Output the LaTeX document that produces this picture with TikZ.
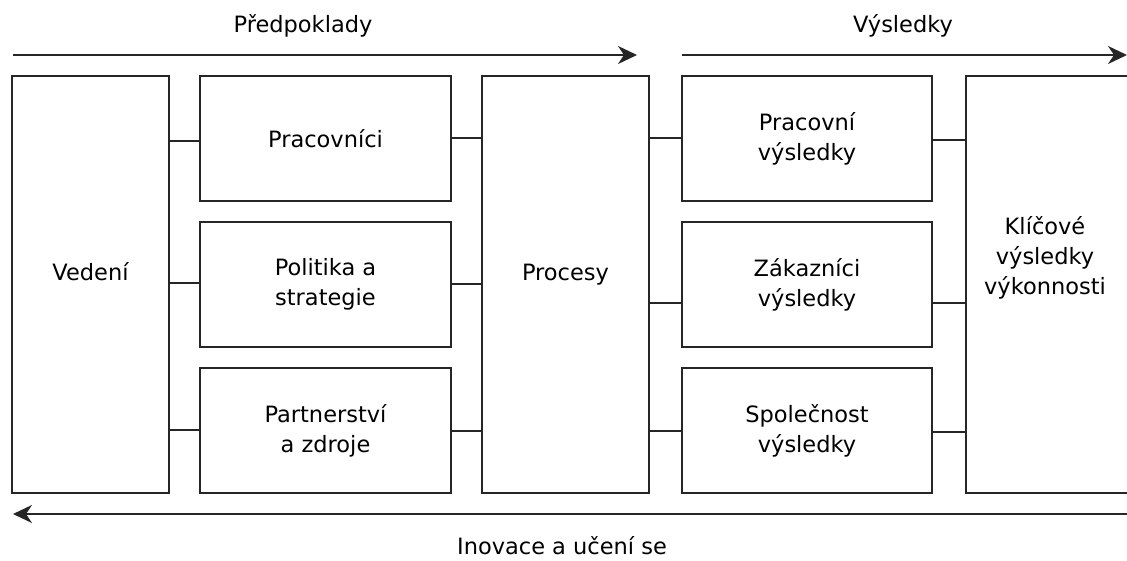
\documentclass[tikz,border=0pt]{standalone}
\usepackage{fontspec}
\setmainfont{DejaVu Sans}
\usetikzlibrary{arrows.meta}
\begin{document}
\begin{tikzpicture}[x=1pt,y=-1pt,
  box/.style={draw=black!85,line width=1.4pt,rectangle,inner sep=0pt,align=center,
    font=\fontsize{22.5}{30}\selectfont},
  small/.style={box,minimum width=251pt,minimum height=125pt},
  tall/.style={box,minimum height=417pt},
  txt/.style={align=center,inner sep=0pt,font=\fontsize{22.5}{30}\selectfont},
  conn/.style={draw=black!85,line width=1.4pt},
  arr/.style={conn,-{Stealth[length=19pt,width=18pt,inset=6pt]}}
]
\useasboundingbox (0,0) rectangle (1127,560);
\clip (0,0) rectangle (1127,560);
\fill[white] (0,0) rectangle (1127,560);

\node[tall,minimum width=157pt] (ved) at (90.5,284.5) {};
\node[txt] (vedT) at (90.5,272) {Vedení};
\node[small] (p1) at (325.5,138.5) {Pracovníci};
\node[small] (p2) at (325.5,284.5) {Politika a\\strategie};
\node[small] (p3) at (325.5,430.5) {Partnerství\\a zdroje};
\node[tall,minimum width=167pt] (proc) at (565.5,284.5) {};
\node[txt] (procT) at (565.5,275) {Procesy};
\node[small,minimum width=250pt] (r1) at (807,138.5) {Pracovní\\výsledky};
\node[small,minimum width=250pt] (r2) at (807,284.5) {Zákazníci\\výsledky};
\node[small,minimum width=250pt] (r3) at (807,430.5) {Společnost\\výsledky};
\node[tall,minimum width=164pt] (kl) at (1048,284.5) {};
\node[txt] (klT) at (1045,258) {Klíčové\\výsledky\\výkonnosti};

% connectors
\draw[conn] (ved.east |- 0,141) -- (p1.west |- 0,141);
\draw[conn] (ved.east |- 0,283) -- (p2.west |- 0,283);
\draw[conn] (ved.east |- 0,430) -- (p3.west |- 0,430);
\draw[conn] (p1.east |- 0,138) -- (proc.west |- 0,138);
\draw[conn] (p2.east |- 0,284) -- (proc.west |- 0,284);
\draw[conn] (p3.east |- 0,431) -- (proc.west |- 0,431);
\draw[conn] (proc.east |- 0,138) -- (r1.west |- 0,138);
\draw[conn] (proc.east |- 0,303) -- (r2.west |- 0,303);
\draw[conn] (proc.east |- 0,431) -- (r3.west |- 0,431);
\draw[conn] (r1.east |- 0,140) -- (kl.west |- 0,140);
\draw[conn] (r2.east |- 0,303) -- (kl.west |- 0,303);
\draw[conn] (r3.east |- 0,432) -- (kl.west |- 0,432);

% flow arrows
\coordinate (a1s) at (13,55);
\coordinate (a1e) at (637,55);
\coordinate (a2s) at (682,55);
\coordinate (a2e) at (1127,55);
\coordinate (a3s) at (1130,514);
\coordinate (a3e) at (13,514);
\draw[arr] (a1s) -- (a1e);
\draw[arr] (a2s) -- (a2e);
\draw[arr] (a3s) -- (a3e);
\node[txt] (t1) at (303,26) {Předpoklady};
\node[txt] (t2) at (903,26) {Výsledky};
\node[txt] (t3) at (562,546) {Inovace a učení se};
\end{tikzpicture}
\end{document}
